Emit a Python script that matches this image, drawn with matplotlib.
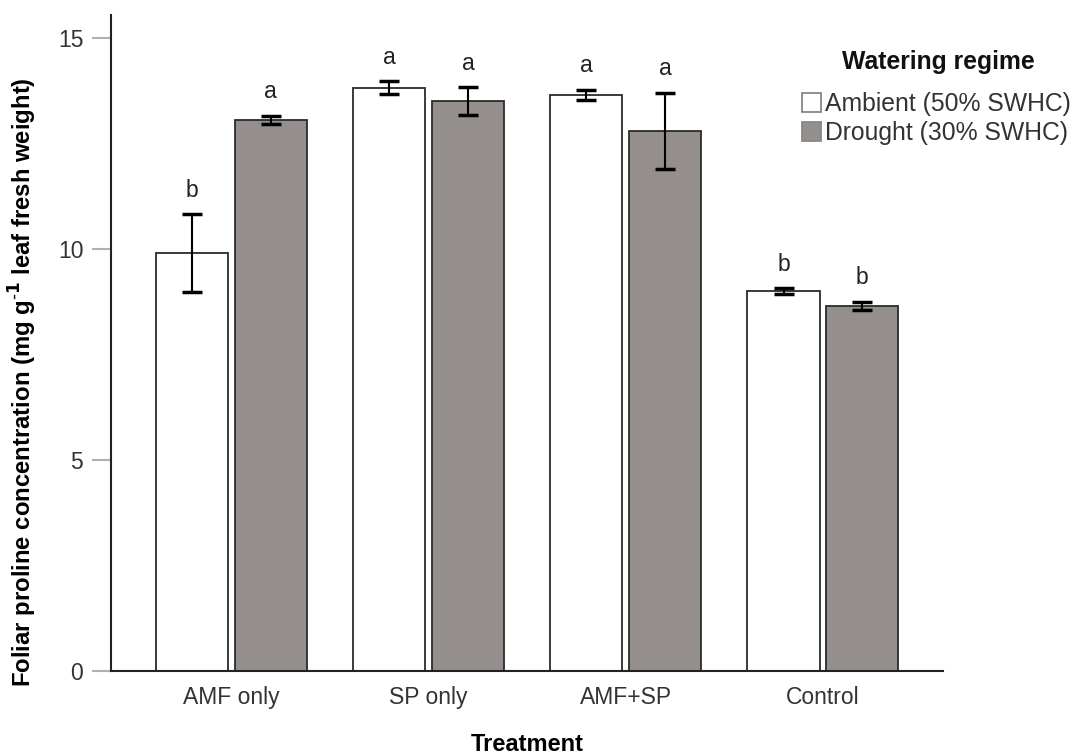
import numpy as np
import matplotlib.pyplot as plt

plt.rcParams['font.family'] = ['Liberation Sans', 'DejaVu Sans']

treatments = ['AMF only', 'SP only', 'AMF+SP', 'Control']
regimes = ['Ambient (50% SWHC)', 'Drought (30% SWHC)']
ambient_mean = [9.90, 13.82, 13.65, 9.00]
ambient_err = [0.92, 0.15, 0.12, 0.07]
drought_mean = [13.06, 13.50, 12.80, 8.65]
drought_err = [0.10, 0.33, 0.90, 0.10]
ambient_letters = ['b', 'a', 'a', 'b']
drought_letters = ['a', 'a', 'a', 'b']

W, H = 1078, 756
fig = plt.figure(figsize=(W / 100, H / 100), dpi=100)
ax = fig.add_axes([0.103, 0.1124, 0.772, 0.868])

x = np.arange(len(treatments))
w = 0.366
off = 0.2
fills = ['white', '#948f8c']
series = [(ambient_mean, ambient_err, ambient_letters),
          (drought_mean, drought_err, drought_letters)]

for k, (means, errs, letters) in enumerate(series):
    pos = x + (off if k else -off)
    ax.bar(pos, means, width=w, color=fills[k], edgecolor='#2b2b2b',
           linewidth=1.3, label=regimes[k], zorder=2)
    ax.errorbar(pos, means, yerr=errs, fmt='none', ecolor='black',
                elinewidth=1.5, capsize=7.2, capthick=2.5, zorder=3)
    for p, m, e, s in zip(pos, means, errs, letters):
        ax.text(p, m + e + 0.3, s, ha='center', va='bottom',
                fontsize=16.5, color='#222222')

ax.set_xlim(-0.61, 3.61)
ax.set_ylim(0, 15.55)
ax.set_yticks([0, 5, 10, 15])
ax.set_xticks(x)
ax.set_xticklabels(treatments)

for side in ['top', 'right']:
    ax.spines[side].set_visible(False)
for side in ['left', 'bottom']:
    ax.spines[side].set_linewidth(1.5)
    ax.spines[side].set_color('#222222')

ax.tick_params(axis='y', length=14, width=1.5, color='#b0b0b0',
               labelsize=16.5, labelcolor='#333333', pad=6)
ax.tick_params(axis='x', length=0, labelsize=16.5, labelcolor='#333333', pad=11)

ax.set_xlabel('Treatment', fontsize=17, fontweight='bold')
ax.xaxis.set_label_coords(0.5, -0.094)
ax.set_ylabel('Foliar proline concentration (mg g$^{\\mathbf{\\text{-}1}}$ leaf fresh weight)',
              fontsize=17.2, fontweight='bold')
ax.yaxis.set_label_coords(-0.087, 0.44)

# legend title drawn separately so it can sit further above the entries
fig.text(938 / W, 1 - 62 / H, 'Watering regime', ha='center', va='center',
         fontsize=17.8, fontweight='bold', color='#111111')
leg = ax.legend(loc='upper left', bbox_to_anchor=(802 / W, 1 - 92 / H),
                bbox_transform=fig.transFigure, frameon=False,
                fontsize=17.8, handlelength=0.78, handleheight=0.78,
                handletextpad=0.15, labelspacing=0.2, borderpad=0,
                borderaxespad=0)
for t in leg.get_texts():
    t.set_color('#333333')
for h in leg.legend_handles:
    h.set_edgecolor('#888888')

fig.savefig('out.png', dpi=100)
